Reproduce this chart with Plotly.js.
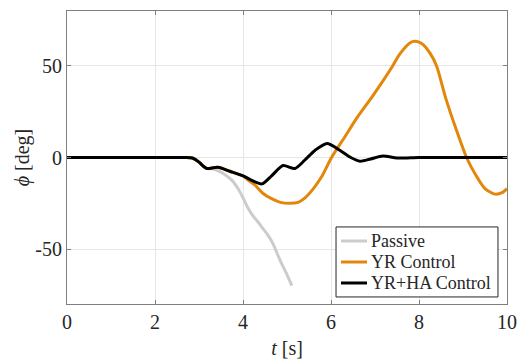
<!DOCTYPE html>
<html>
<head>
<meta charset="utf-8">
<script src="https://cdn.plot.ly/plotly-3.0.1.min.js"></script>
<style>html,body{margin:0;padding:0;background:#fff;}#chart{width:517px;height:364px;}</style>
</head>
<body>
<div id="chart"></div>
<script>
// Passive
const tPassive = [0, 1, 2, 2.6, 2.7, 2.85, 3.0, 3.1, 3.18, 3.3, 3.45, 3.6, 3.75, 3.9, 4.0, 4.1, 4.23, 4.35, 4.45, 4.57, 4.68, 4.84, 5.0, 5.11];
const phiPassive = [0, 0, 0, 0, 0, -0.3, -2.5, -4.8, -6, -6.2, -7.5, -9.5, -12.5, -17.5, -22, -27, -32, -35.5, -38.7, -42.5, -47, -56, -64, -70];
// YR Control
const tYR = [0, 1, 2, 2.6, 2.7, 2.85, 3.0, 3.1, 3.18, 3.43, 3.7, 4.0, 4.1, 4.27, 4.45, 4.65, 4.85, 5.07, 5.25, 5.41, 5.6, 5.8, 6.0, 6.32, 6.6, 6.93, 7.2, 7.4, 7.55, 7.7, 7.8, 7.9, 8.0, 8.1, 8.25, 8.4, 8.6, 8.85, 9.08, 9.3, 9.5, 9.73, 9.9, 10];
const phiYR = [0, 0, 0, 0, 0, -0.3, -2.5, -4.8, -6, -5.3, -7.5, -10, -12, -15, -19.5, -22.5, -24.5, -25, -24.5, -22, -17, -10, -0.5, 11.5, 22, 33, 42.5, 50, 56, 60.5, 62.7, 63.5, 63, 61.5, 57, 50, 33, 15, 0, -10, -17, -20, -19, -17];
// YR+HA Control
const tYRHA = [0, 1, 2, 2.6, 2.7, 2.85, 3.0, 3.1, 3.18, 3.43, 3.7, 4.0, 4.2, 4.43, 4.65, 4.91, 5.18, 5.4, 5.64, 5.91, 6.2, 6.45, 6.66, 6.9, 7.18, 7.5, 8.0, 9.0, 10];
const phiYRHA = [0, 0, 0, 0, 0, -0.3, -2.5, -4.8, -6, -5.3, -7.5, -10, -12.5, -14.4, -10, -4.4, -6, -1.5, 4, 7.7, 4, 0, -2, -0.8, 0.8, -0.3, 0, 0, 0];

const seriesNames = ['Passive', 'YR Control', 'YR+HA Control'];
const seriesColors = ['#cccccc', '#e3870b', '#000000'];
const xTicks = [0, 2, 4, 6, 8, 10];
const xTickText = ['0', '2', '4', '6', '8', '10'];
const yTicks = [-50, 0, 50];
const yTickText = ['-50', '0', '50'];

const serif = 'Times New Roman, Liberation Serif, serif';
const txt = '#262626';
const xs = [tPassive, tYR, tYRHA];
const ys = [phiPassive, phiYR, phiYRHA];
const traces = xs.map((x, i) => ({
  x: x, y: ys[i], name: seriesNames[i], mode: 'lines', showlegend: false,
  line: {color: seriesColors[i], width: 3, shape: 'spline', smoothing: 0.7}
}));

// manual legend (paper coordinates)
const lg = {x0: 0.6114, x1: 0.9795, y0: 0.024, y1: 0.263, lx0: 0.6227, lx1: 0.6818, tx: 0.6864, rows: [0.215, 0.1433, 0.0717]};
const shapes = [{type: 'rect', xref: 'paper', yref: 'paper', x0: lg.x0, x1: lg.x1, y0: lg.y0, y1: lg.y1,
  line: {color: txt, width: 1}, fillcolor: '#ffffff', layer: 'above'}];
const annotations = [];
seriesNames.forEach((n, i) => {
  shapes.push({type: 'line', xref: 'paper', yref: 'paper', x0: lg.lx0, x1: lg.lx1, y0: lg.rows[i], y1: lg.rows[i],
    line: {color: seriesColors[i], width: 3}, layer: 'above'});
  annotations.push({xref: 'paper', yref: 'paper', x: lg.tx, y: lg.rows[i], xanchor: 'left', yanchor: 'middle',
    text: n, showarrow: false, font: {family: serif, size: 18, color: txt}});
});

const axisCommon = {
  showline: true, linecolor: '#7f7f7f', linewidth: 1, mirror: 'ticks',
  ticks: 'inside', ticklen: 4, tickcolor: '#7f7f7f',
  showgrid: true, gridcolor: '#e6e6e6', gridwidth: 1, zeroline: false,
  tickfont: {family: serif, size: 20, color: txt}
};
const layout = {
  width: 517, height: 364,
  margin: {l: 67, r: 10, t: 11, b: 60},
  paper_bgcolor: '#ffffff', plot_bgcolor: '#ffffff',
  showlegend: false,
  font: {family: serif},
  shapes: shapes, annotations: annotations,
  xaxis: Object.assign({}, axisCommon, {range: [0, 10], tickvals: xTicks, ticktext: xTickText,
    title: {text: '<i>t</i> [s]', font: {family: serif, size: 20, color: txt}, standoff: 8}}),
  yaxis: Object.assign({}, axisCommon, {range: [-80, 80], tickvals: yTicks, ticktext: yTickText,
    title: {text: '<i>ϕ</i> [deg]', font: {family: serif, size: 20, color: txt}, standoff: 0}})
};
Plotly.newPlot('chart', traces, layout, {staticPlot: true, displayModeBar: false});
</script>
</body>
</html>
